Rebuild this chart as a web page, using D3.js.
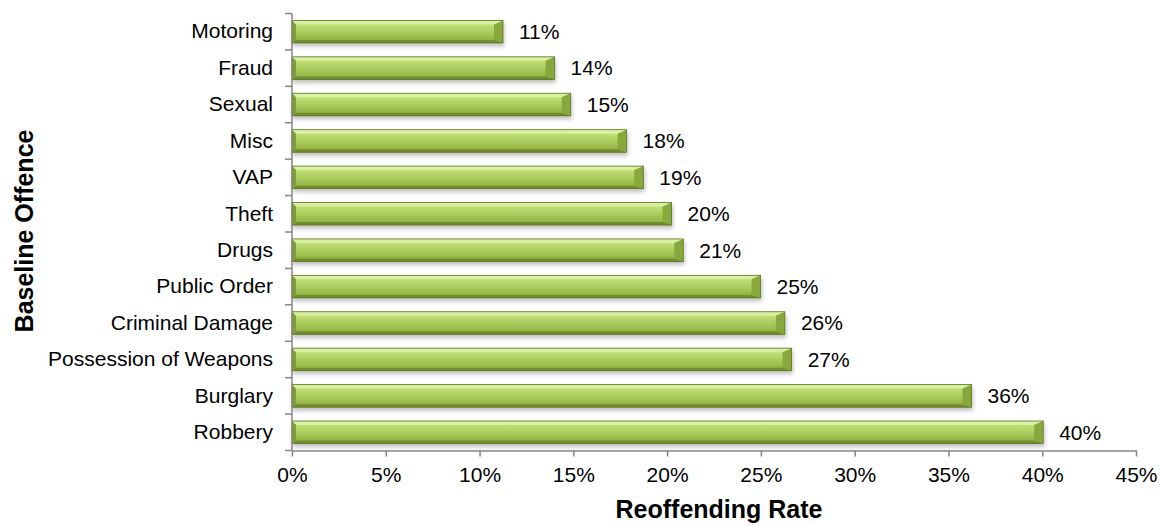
<!DOCTYPE html>
<html>
<head>
<meta charset="utf-8">
<script src="https://cdn.jsdelivr.net/npm/d3@7"></script>
<style>
  html, body { margin: 0; padding: 0; background: #fff; }
  svg { display: block; font-family: "Liberation Sans", Arial, sans-serif; }
</style>
</head>
<body>
<svg id="chart" width="1161" height="526"></svg>
<script>
const categories = ["Motoring", "Fraud", "Sexual", "Misc", "VAP", "Theft", "Drugs",
  "Public Order", "Criminal Damage", "Possession of Weapons", "Burglary", "Robbery"];
const rates = [0.1125, 0.140, 0.1486, 0.1784, 0.1873, 0.2024, 0.2086,
  0.2498, 0.2628, 0.2664, 0.3623, 0.4005];
const rateLabels = ["11%", "14%", "15%", "18%", "19%", "20%", "21%",
  "25%", "26%", "27%", "36%", "40%"];
const xTicks = [0, 0.05, 0.10, 0.15, 0.20, 0.25, 0.30, 0.35, 0.40, 0.45];
const xTitle = "Reoffending Rate";
const yTitle = "Baseline Offence";

const W = 1161, H = 526;
const margin = { top: 13.5, right: 25, bottom: 75.5, left: 292 };
const svg = d3.select("#chart");

const x = d3.scaleLinear().domain([0, 0.45]).range([margin.left, W - margin.right]);
const y = d3.scaleBand().domain(categories).range([margin.top, H - margin.bottom]).paddingInner(0.38).paddingOuter(0.19);

const defs = svg.append("defs");
const grad = defs.append("linearGradient").attr("id", "barGrad")
  .attr("x1", 0).attr("y1", 0).attr("x2", 0).attr("y2", 1);
[[0, "#cfe98f"], [0.3, "#b8d86c"], [0.65, "#a2c354"], [1, "#8aab3d"]]
  .forEach(([o, c]) => grad.append("stop").attr("offset", o).attr("stop-color", c));

const shadow = defs.append("filter").attr("id", "shadow")
  .attr("x", "-5%").attr("y", "-30%").attr("width", "110%").attr("height", "180%");
shadow.append("feDropShadow").attr("dx", 1).attr("dy", 3).attr("stdDeviation", 2)
  .attr("flood-color", "#000").attr("flood-opacity", 0.25);

// Bars
const bars = svg.append("g").selectAll("g.bar")
  .data(categories.map((c, i) => ({ c, v: rates[i], l: rateLabels[i] })))
  .join("g").attr("class", "bar");

bars.each(function (d) {
  const g = d3.select(this);
  const x0 = x(0), x1 = x(d.v), y0 = y(d.c), y1 = y(d.c) + y.bandwidth();
  const bt = 4, bb = 3, bl = 4, br = 9;
  const inner = g.append("g").attr("filter", "url(#shadow)");
  inner.append("rect").attr("x", x0).attr("y", y0).attr("width", x1 - x0).attr("height", y1 - y0)
    .attr("fill", "url(#barGrad)");
  // top facet
  inner.append("polygon").attr("points", [[x0, y0], [x1, y0], [x1 - br, y0 + bt], [x0 + bl, y0 + bt]].join(" "))
    .attr("fill", "#d9f0a2");
  // bottom facet
  inner.append("polygon").attr("points", [[x0, y1], [x1, y1], [x1 - br, y1 - bb], [x0 + bl, y1 - bb]].join(" "))
    .attr("fill", "#6f8c2e");
  // left facet
  inner.append("polygon").attr("points", [[x0, y0], [x0 + bl, y0 + bt], [x0 + bl, y1 - bb], [x0, y1]].join(" "))
    .attr("fill", "#7f9e36");
  // right facet
  inner.append("polygon").attr("points", [[x1, y0], [x1 - br, y0 + bt], [x1 - br, y1 - bb], [x1, y1]].join(" "))
    .attr("fill", "#88a83c");
  // outline
  inner.append("rect").attr("x", x0).attr("y", y0).attr("width", x1 - x0).attr("height", y1 - y0)
    .attr("fill", "none").attr("stroke", "#5b7424").attr("stroke-width", 0.8);
  // value label
  g.append("text").attr("x", x1 + 16).attr("y", (y0 + y1) / 2).attr("dy", "0.35em")
    .attr("font-size", 21).attr("fill", "#000").text(d.l);
});

// Axes
const axisColor = "#868686";
const yAxis = svg.append("g").attr("transform", `translate(${x(0)},0)`)
  .call(d3.axisLeft(y).tickSize(0).tickPadding(19));
yAxis.select(".domain").remove();
yAxis.selectAll("text").attr("font-size", 21).attr("fill", "#000")
  .attr("font-family", "'Liberation Sans', Arial, sans-serif");

// y axis line and boundary ticks
svg.append("line").attr("x1", x(0)).attr("x2", x(0))
  .attr("y1", margin.top).attr("y2", H - margin.bottom)
  .attr("stroke", axisColor).attr("stroke-width", 1.5);
const bounds = categories.map(c => y(c) - y.step() * y.paddingInner() / 2);
bounds.push(H - margin.bottom);
svg.append("g").selectAll("line").data(bounds).join("line")
  .attr("x1", x(0) - 7).attr("x2", x(0))
  .attr("y1", d => d).attr("y2", d => d)
  .attr("stroke", axisColor).attr("stroke-width", 1.5);

const xAxis = svg.append("g").attr("transform", `translate(0,${H - margin.bottom})`)
  .call(d3.axisBottom(x).tickValues(xTicks).tickFormat(d3.format(".0%")).tickSize(6).tickSizeOuter(0).tickPadding(11));
xAxis.select(".domain").attr("stroke", axisColor).attr("stroke-width", 1.5);
xAxis.selectAll(".tick line").attr("stroke", axisColor).attr("stroke-width", 1.5);
xAxis.selectAll("text").attr("font-size", 21).attr("fill", "#000")
  .attr("font-family", "'Liberation Sans', Arial, sans-serif");

// Titles
svg.append("text").attr("x", (x(0) + x(0.45)) / 2 + 5).attr("y", 518)
  .attr("text-anchor", "middle").attr("font-size", 25).attr("font-weight", "bold").text(xTitle);
svg.append("text").attr("transform", `translate(33,${(margin.top + H - margin.bottom) / 2 - 1}) rotate(-90)`)
  .attr("text-anchor", "middle").attr("font-size", 25).attr("font-weight", "bold").text(yTitle);
</script>
</body>
</html>
